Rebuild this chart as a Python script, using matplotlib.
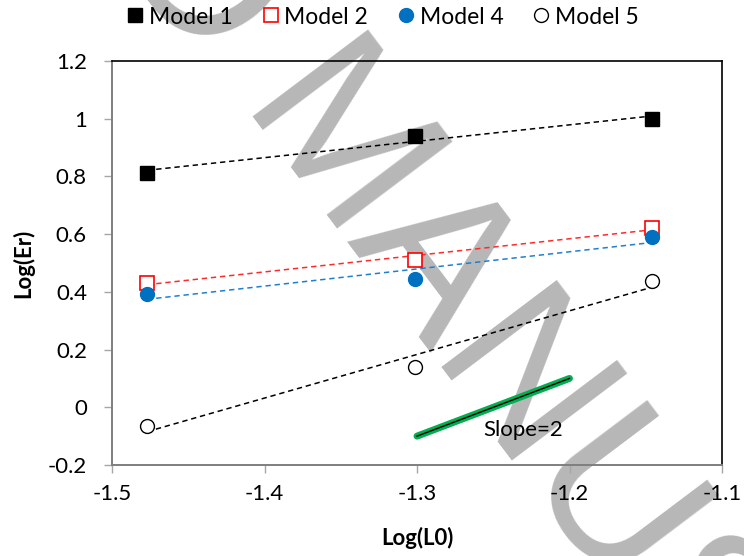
import numpy as np
import matplotlib
matplotlib.use("Agg")
import matplotlib.pyplot as plt
from matplotlib.ticker import FuncFormatter

plt.rcParams['font.family'] = ['Lato', 'DejaVu Sans']
plt.rcParams['axes.unicode_minus'] = False

# data
log_l0 = [-1.477, -1.301, -1.146]
model1 = [0.813, 0.939, 1.000]
model2 = [0.432, 0.511, 0.623]
model4 = [0.391, 0.443, 0.590]
model5 = [-0.065, 0.140, 0.438]

slope_x = [-1.3, -1.2]
slope_y = [-0.1, 0.1]

x_ticks = [-1.5, -1.4, -1.3, -1.2, -1.1]
y_ticks = [-0.2, 0, 0.2, 0.4, 0.6, 0.8, 1.0, 1.2]

W, H = 744, 556
fig = plt.figure(figsize=(W / 100, H / 100), dpi=100)
ax = fig.add_axes([112 / W, 1 - 465 / H, (722 - 112) / W, (465 - 61) / H])
ax.set_zorder(1)
ax.patch.set_alpha(0)

# watermark (under everything)
wx, wy = 234 / W, 1 - 116 / H
for txt, ha in [("ACCEPTED ", 'right'), ("MANUSCRIPT", 'left')]:
    fig.text(wx, wy, txt, fontsize=151, color='#b7b7b7', family='Liberation Sans',
             rotation=-53, ha=ha, va='baseline', rotation_mode='anchor', zorder=0)

series = [
    ("Model 1", model1, dict(marker='s', color='black', mfc='black', mec='black', ms=9.5), 'black'),
    ("Model 2", model2, dict(marker='s', color='red', mfc='white', mec='red', ms=9.5, mew=1.2), '#ff2a2a'),
    ("Model 4", model4, dict(marker='o', color='#0070c0', mfc='#0070c0', mec='#0070c0', ms=10), '#1f80d0'),
    ("Model 5", model5, dict(marker='o', color='black', mfc='white', mec='black', ms=10, mew=1.0), 'black'),
]

x = np.array(log_l0)
for name, yv, style, tcol in series:
    k, b = np.polyfit(x, yv, 1)
    xs = np.array([x.min(), x.max()])
    ax.plot(xs, k * xs + b, color=tcol, lw=1.1, ls=(0, (3.5, 2.5)), zorder=2)
for name, yv, style, tcol in series:
    ax.plot(x, yv, ls='none', label=name, zorder=3, **style)

# slope guide
ax.plot(slope_x, slope_y, color='#00b050', lw=5, solid_capstyle='round', zorder=2)
ax.plot(slope_x, slope_y, color='black', lw=1, zorder=2)
ax.text(-1.2305, -0.079, "Slope=2", fontsize=16, ha='center', va='center', zorder=4)

ax.set_xlim(-1.5, -1.1)
ax.set_ylim(-0.2, 1.2)
ax.set_xticks(x_ticks)
ax.set_yticks(y_ticks)
fmt = FuncFormatter(lambda v, p: f"{round(v, 2):g}")
ax.xaxis.set_major_formatter(fmt)
ax.yaxis.set_major_formatter(fmt)
ax.tick_params(axis='both', direction='out', length=6, width=1, color='#a6a6a6',
               labelsize=16, pad=8)
ax.tick_params(axis='y', pad=12)

for s in ['top', 'right']:
    ax.spines[s].set_color('black')
    ax.spines[s].set_linewidth(1.2)
for s in ['left', 'bottom']:
    ax.spines[s].set_color('#7f7f7f')
    ax.spines[s].set_linewidth(1.4)

ax.set_xlabel("Log(L0)", fontsize=16, fontweight='bold', labelpad=16)
ax.set_ylabel("Log(Er)", fontsize=16, fontweight='bold', labelpad=10)

ax.legend(loc='center', bbox_to_anchor=(383 / W, 1 - 17 / H), bbox_transform=fig.transFigure,
          ncol=4, frameon=False, fontsize=16.5, handlelength=0.7, handletextpad=0.25,
          columnspacing=1.3, borderpad=0)

fig.savefig("out.png", dpi=100, facecolor='white')
